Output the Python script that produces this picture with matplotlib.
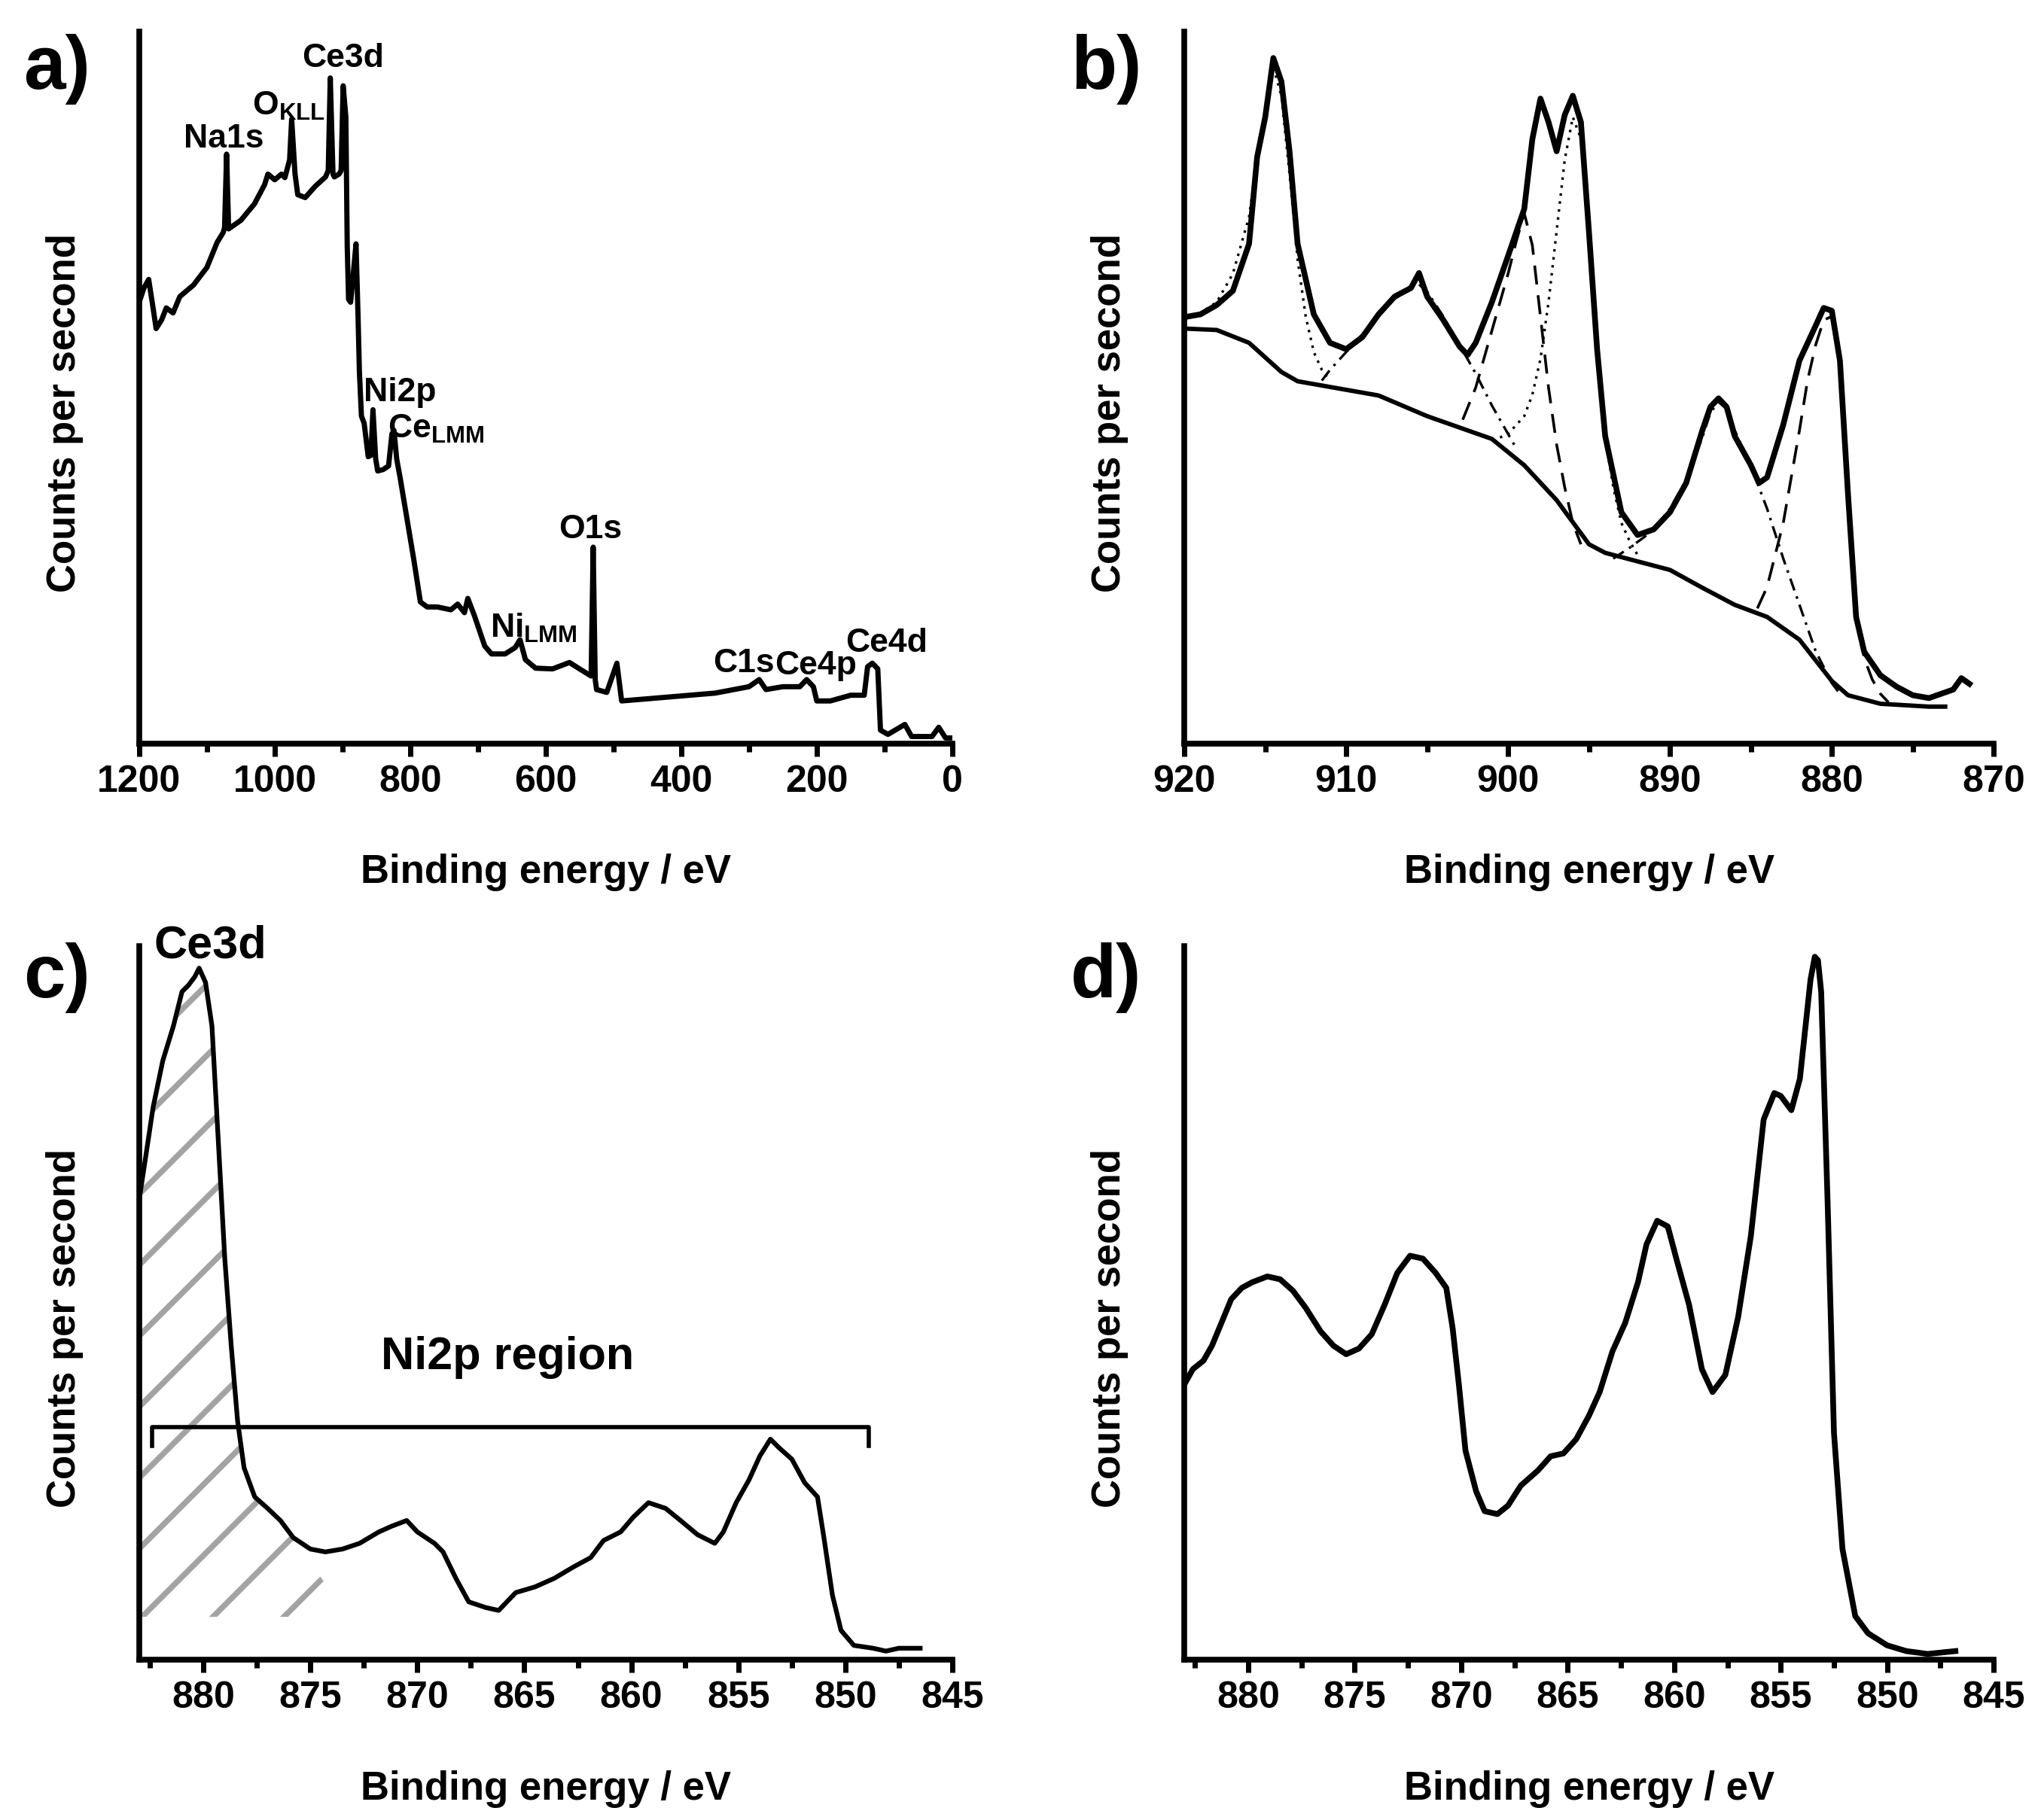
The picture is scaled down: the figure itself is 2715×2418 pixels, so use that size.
import numpy as np
import matplotlib
matplotlib.use('Agg')
import matplotlib.pyplot as plt
from matplotlib.patches import Polygon
from matplotlib.ticker import MultipleLocator

plt.rcParams['font.family'] = ['Liberation Sans', 'DejaVu Sans']
plt.rcParams['font.weight'] = 'bold'
plt.rcParams['mathtext.fontset'] = 'custom'
plt.rcParams['mathtext.rm'] = 'Liberation Sans:bold'
plt.rcParams['mathtext.bf'] = 'Liberation Sans:bold'
plt.rcParams['mathtext.it'] = 'Liberation Sans:bold'

# ---- a) survey spectrum (y in % of axis height, read off the picture)
survey_ev = [1200, 1193, 1186, 1180, 1175, 1167, 1160, 1150, 1140, 1120, 1100, 1085, 1076, 1074,
             1071, 1068, 1065, 1050, 1030, 1015, 1010, 1000, 990, 985, 978, 975, 970, 966, 955,
             940, 925, 921, 918, 914, 912, 905, 902, 899, 895, 893, 891, 888, 885, 880, 877, 875,
             872, 868, 862, 858, 855, 851, 848, 840, 832, 827, 824, 820, 815, 805, 795, 785, 775,
             760, 740, 730, 720, 715, 705, 690, 680, 660, 645, 638, 630, 615, 590, 565, 545, 533,
             530, 527, 525, 510, 495, 488, 450, 400, 350, 300, 285, 275, 250, 225, 215, 205, 200,
             180, 150, 130, 125, 118, 110, 106, 95, 70, 60, 30, 20, 10, 0]
survey_cps = [62.0, 64.0, 65.2, 61.5, 58.3, 59.5, 61.2, 60.5, 62.8, 64.4, 66.9, 70.4, 71.8, 72.5,
              82.8, 72.3, 72.5, 73.5, 75.8, 78.5, 80.0, 79.2, 80.0, 79.5, 82.0, 87.7, 80.0, 77.1, 76.7,
              78.3, 79.6, 80.5, 93.5, 80.0, 79.6, 80.0, 80.5, 92.4, 88.0, 70.0, 62.4, 62.0, 65.0, 70.2,
              60.0, 52.2, 46.0, 45.0, 40.3, 40.5, 46.9, 40.0, 38.3, 38.5, 39.0, 43.5, 44.0, 40.0, 37.4,
              31.7, 26.0, 19.9, 19.2, 19.2, 18.8, 19.6, 18.4, 20.4, 17.9, 13.7, 12.6, 12.6, 13.5, 14.6,
              11.8, 10.6, 10.5, 11.4, 10.2, 9.5, 27.6, 9.0, 7.6, 7.2, 11.3, 6.0, 6.3, 6.7, 7.1, 8.0,
              9.0, 7.6, 8.0, 8.0, 9.0, 8.0, 6.0, 6.0, 6.8, 6.8, 10.8, 11.3, 10.5, 1.9, 1.3, 2.7, 1.0,
              1.0, 2.3, 0.8, 0.8]
survey_labels = [('Na1s', 1075, 84.9), (r'O$_{\mathrm{KLL}}$', 980, 89.6), ('Ce3d', 899, 96.3),
                 ('Ni2p', 815, 49.3), (r'Ce$_{\mathrm{LMM}}$', 762, 44.2), ('O1s', 534, 30.1),
                 (r'Ni$_{\mathrm{LMM}}$', 618, 16.2), ('C1s', 308, 11.3), ('Ce4p', 202, 10.9),
                 ('Ce4d', 97, 14.1)]

# ---- b) Ce3d high resolution with fit
ce_ev = [920, 919, 918, 917, 916, 915.5, 915, 914.5, 914, 913.5, 913, 912, 911, 910, 909, 908,
         907, 906, 905.5, 905, 904, 903, 902.5, 902, 901, 900, 899, 898.5, 898, 897.5, 897, 896.5,
         896, 895.5, 895, 894.5, 894, 893, 892, 891, 890, 889, 888, 887.5, 887, 886.5, 886, 885,
         884.5, 884, 883, 882, 881, 880.5, 880, 879.5, 879, 878.5, 878, 877, 876, 875, 874, 873,
         872.5, 872, 871.5]
ce_cps = [59.9, 60.3, 61.6, 63.6, 70.2, 82.4, 88.0, 96.3, 93.0, 83.2, 70.2, 60.3, 56.3, 55.4, 57.1,
          60.3, 62.8, 64.0, 66.1, 62.8, 59.5, 55.8, 54.6, 56.3, 62.0, 68.5, 75.1, 84.9, 90.6, 87.3,
          83.2, 88.3, 91.0, 87.3, 71.8, 55.4, 43.2, 32.5, 29.3, 30.1, 32.5, 36.6, 44.0, 47.3, 48.5,
          47.3, 43.2, 39.1, 36.6, 37.4, 44.8, 53.8, 58.7, 61.2, 60.8, 53.8, 35.0, 17.8, 12.9, 9.6,
          8.0, 6.8, 6.4, 7.2, 7.6, 9.2, 8.4]
bg_ev = [920, 918, 916, 914, 913, 911, 908, 905, 903, 901, 899, 897, 895, 894, 892, 890, 888,
         886, 884, 882, 880, 879, 877, 874, 873]
bg_cps = [58.3, 58.1, 56.3, 52.2, 50.9, 50.1, 48.9, 46.0, 44.4, 42.8, 39.1, 34.2, 28.0, 26.8, 25.6,
          24.4, 21.9, 19.5, 17.8, 14.6, 8.8, 6.8, 5.6, 5.2, 5.2]
# fitted components
dot1_ev = [920, 919, 918, 917, 916, 915.5, 915, 914.5, 914, 913.5, 913, 912.5, 912, 911.5, 911]
dot1_cps = [59.5, 60.5, 62.0, 66.0, 74.0, 82.0, 89.0, 95.0, 91.0, 80.0, 68.0, 60.0, 55.0, 52.5, 51.0]
dd1_ev = [911.5, 911, 910, 909, 908, 907, 906, 905.5, 905, 904, 903, 902, 901, 900, 899.5]
dd1_cps = [51.0, 52.5, 55.0, 57.5, 60.0, 62.5, 64.0, 64.5, 63.5, 60.0, 56.0, 52.0, 47.5, 43.5, 41.5]
dash1_ev = [902.8, 902, 901, 900, 899.5, 899, 898.5, 898, 897.5, 897, 896.5, 896, 895.5]
dash1_cps = [45.5, 50.0, 58.0, 66.0, 70.5, 74.5, 70.0, 60.0, 50.0, 42.0, 36.0, 31.0, 28.0]
dot2_ev = [900.5, 900, 899, 898.5, 898, 897.5, 897, 896.5, 896, 895.5, 895, 894.5, 894, 893.5,
           893, 892.5, 892]
dot2_cps = [43.0, 43.5, 46.0, 49.0, 54.0, 62.0, 72.0, 82.0, 88.0, 85.0, 72.0, 56.0, 43.0, 36.0,
            31.0, 28.5, 26.5]
dd2_ev = [893.5, 892.5, 891, 890, 889, 888, 887.5, 887, 886.5, 886, 885, 884, 883, 882, 881, 880,
          879.5]
dd2_cps = [26.0, 27.5, 30.0, 33.0, 37.0, 43.0, 46.5, 48.0, 47.0, 44.0, 39.0, 33.0, 26.0, 19.5, 13.0,
           8.5, 7.0]
dash2_ev = [884.6, 884, 883, 882, 881.5, 881, 880.5, 880, 879.5, 879, 878.5, 878, 877.5, 877, 876.5]
dash2_cps = [19.0, 22.0, 31.0, 44.0, 51.0, 56.0, 59.5, 60.0, 53.0, 35.0, 18.0, 12.0, 9.0, 7.0, 5.8]

# ---- c) Ni2p window with Ce3d tail
nic_ev = [883.05, 882.8, 882.35, 881.9, 881.4, 881.0, 880.7, 880.4, 880.2, 879.9, 879.6, 879.3,
          879.0, 878.7, 878.4, 878.1, 877.6, 877.0, 876.4, 875.8, 875.0, 874.3, 873.5, 872.7,
          871.8, 871.2, 870.5, 870.0, 869.2, 868.8, 868.2, 867.6, 866.8, 866.2, 865.4, 864.5,
          863.6, 862.7, 861.9, 861.3, 860.5, 859.9, 859.2, 858.4, 857.7, 856.9, 856.1, 855.7,
          855.1, 854.5, 854.0, 853.5, 853.1, 852.5, 851.9, 851.3, 851.0, 850.6, 850.2, 849.6,
          848.7, 848.1, 847.5, 846.5]
nic_cps = [63.5, 68.4, 77.4, 83.9, 88.8, 93.6, 94.5, 95.7, 96.9, 94.9, 88.8, 72.5, 56.2, 44.0,
           33.4, 26.9, 22.8, 21.2, 19.5, 17.1, 15.5, 15.1, 15.5, 16.3, 17.9, 18.7, 19.5, 17.9, 16.3,
           15.1, 11.4, 8.1, 7.3, 6.9, 9.4, 10.2, 11.4, 13.0, 14.3, 16.7, 17.9, 20.0, 22.0, 21.2,
           19.5, 17.5, 16.3, 17.9, 22.0, 25.2, 28.5, 30.9, 29.7, 28.1, 24.8, 22.8, 17.1, 9.0, 4.1,
           2.0, 1.6, 1.2, 1.6, 1.6]
hatch_end_ev = 876.2
hatch_corner_ev = 873.2
hatch_floor = 6.0
bracket_left, bracket_right = 882.4, 848.9
bracket_top, bracket_foot = 32.6, 29.9

# ---- d) Ni2p after subtraction
nid_ev = [883.05, 882.6, 882.1, 881.7, 881.2, 880.8, 880.3, 879.8, 879.1, 878.5, 877.9, 877.3,
          876.6, 876.0, 875.4, 874.8, 874.2, 873.6, 873.0, 872.4, 871.8, 871.2, 870.7, 870.4,
          870.1, 869.8, 869.3, 868.9, 868.3, 867.8, 867.2, 866.4, 865.8, 865.2, 864.6, 864.0,
          863.5, 862.9, 862.3, 861.7, 861.3, 860.8, 860.3, 859.9, 859.3, 858.7, 858.2, 857.6,
          857.0, 856.4, 855.8, 855.3, 855.0, 854.5, 854.1, 853.6, 853.4, 853.25, 853.1, 852.8,
          852.5, 852.1, 851.5, 850.9, 850.0, 849.1, 848.1, 846.8]
nid_cps = [38.3, 40.7, 41.9, 44.0, 47.6, 50.5, 52.1, 52.9, 53.7, 53.3, 51.7, 49.3, 46.0, 44.0,
           42.8, 43.6, 45.6, 49.7, 54.2, 56.6, 56.2, 54.2, 52.1, 46.4, 38.3, 29.3, 23.6, 20.8, 20.4,
           21.6, 24.4, 26.5, 28.5, 28.9, 30.9, 34.2, 37.5, 43.2, 47.2, 52.9, 58.2, 61.5, 60.7, 56.2,
           49.7, 40.7, 37.5, 39.9, 48.0, 59.4, 75.7, 79.4, 79.0, 77.0, 81.4, 95.3, 98.5, 98.0, 93.6,
           64.3, 31.8, 15.5, 6.1, 3.7, 2.0, 1.2, 0.8, 1.2]


def style(ax, xlim, major, minor):
    ax.set_xlim(*xlim)
    ax.set_ylim(0, 100)
    ax.spines['top'].set_visible(False)
    ax.spines['right'].set_visible(False)
    ax.spines['left'].set_linewidth(5.5)
    ax.spines['bottom'].set_linewidth(5.5)
    ax.set_yticks([])
    ax.xaxis.set_major_locator(MultipleLocator(major))
    ax.xaxis.set_minor_locator(MultipleLocator(minor))
    ax.tick_params(axis='x', which='major', direction='out', length=12, width=5, labelsize=36, pad=8)
    ax.tick_params(axis='x', which='minor', direction='out', length=8, width=5)
    ax.set_xlabel('Binding energy / eV', fontsize=38, fontweight='bold', va='center')
    ax.xaxis.set_label_coords(0.5, -0.181)
    ax.set_ylabel('Counts per second', fontsize=38, fontweight='bold', va='center')
    ax.yaxis.set_label_coords(-0.092, 0.465)


fig = plt.figure(figsize=(27.15, 24.18), dpi=100)
ax_a = fig.add_axes([0.0681, 0.5914, 0.3978, 0.3912])
ax_b = fig.add_axes([0.5794, 0.5914, 0.3960, 0.3912])
ax_c = fig.add_axes([0.0681, 0.0881, 0.3978, 0.3921])
ax_d = fig.add_axes([0.5794, 0.0881, 0.3960, 0.3921])

# a)
ax_a.plot(survey_ev, survey_cps, color='black', lw=5, solid_joinstyle='round')
for txt, ev, y in survey_labels:
    ax_a.text(ev, y, txt, fontsize=32, fontweight='bold', ha='center', va='center')
style(ax_a, (1200, 0), 200, 100)

# b)
ax_b.plot(bg_ev, bg_cps, color='black', lw=4.2)
ax_b.plot(dot1_ev, dot1_cps, color='black', lw=2.4, dashes=(1, 2.2))
ax_b.plot(dot2_ev, dot2_cps, color='black', lw=2.4, dashes=(1, 2.2))
ax_b.plot(dd1_ev, dd1_cps, color='black', lw=2.4, dashes=(5, 2.5, 1, 2.5))
ax_b.plot(dd2_ev, dd2_cps, color='black', lw=2.4, dashes=(5, 2.5, 1, 2.5))
ax_b.plot(dash1_ev, dash1_cps, color='black', lw=2.6, dashes=(7, 4))
ax_b.plot(dash2_ev, dash2_cps, color='black', lw=2.6, dashes=(7, 4))
ax_b.plot(ce_ev, ce_cps, color='black', lw=5.5, solid_joinstyle='round')
style(ax_b, (920, 870), 10, 5)

# c) hatched Ce3d tail
hx = [e for e in nic_ev if e >= hatch_end_ev]
hy = nic_cps[:len(hx)]
hatch_poly = Polygon(np.column_stack([hx + [hatch_corner_ev, nic_ev[0]], hy + [hatch_floor, hatch_floor]]),
                     closed=True, facecolor='none', edgecolor='none', transform=ax_c.transData)
ax_c.add_patch(hatch_poly)
pos = ax_c.get_position()
slope = (pos.width * 27.15) / (pos.height * 24.18)  # 45 degrees on the page
for b in 0.056 + 0.0994 * np.arange(-12, 10):
    ln, = ax_c.plot([0, 1], [b, b + slope], transform=ax_c.transAxes, color='#a3a3a3', lw=5.5, zorder=1)
    ln.set_clip_path(hatch_poly)
ax_c.plot(nic_ev, nic_cps, color='black', lw=4.5, zorder=3)
ax_c.plot([bracket_left, bracket_left, bracket_right, bracket_right],
          [bracket_foot, bracket_top, bracket_top, bracket_foot], color='black', lw=4, zorder=4)
ax_c.text((bracket_left + bracket_right) / 2 + 0.15, 42.3, 'Ni2p region', fontsize=44, fontweight='bold',
          ha='center', va='center')
ax_c.text(882.3, 98.3, 'Ce3d', fontsize=44, fontweight='bold', ha='left', va='baseline')
style(ax_c, (883, 845), 5, 2.5)

# d)
ax_d.plot(nid_ev, nid_cps, color='black', lw=5.5, solid_joinstyle='round')
style(ax_d, (883, 845), 5, 2.5)

for lab, x, y in [('a)', 0.0114, 0.9512), ('b)', 0.5238, 0.9512), ('c)', 0.0114, 0.452), ('d)', 0.5238, 0.452)]:
    fig.text(x, y, lab, fontsize=72, fontweight='bold', ha='left', va='baseline')

fig.savefig('out.png', dpi=100)
